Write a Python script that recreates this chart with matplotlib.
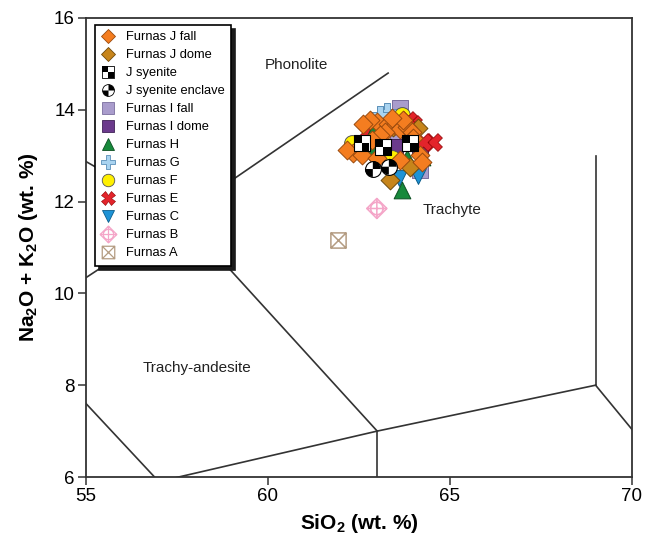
import matplotlib
matplotlib.use("Agg")
import matplotlib.pyplot as plt
from matplotlib.path import Path
from matplotlib.lines import Line2D

plt.rcParams['font.family'] = ['Liberation Sans', 'DejaVu Sans']
plt.rcParams['mathtext.fontset'] = 'custom'
plt.rcParams['mathtext.rm'] = 'Liberation Sans'
plt.rcParams['mathtext.bf'] = 'Liberation Sans:bold'

# ---- data (SiO2, Na2O+K2O) ----
jfall_x = [62.99, 62.80, 63.31, 63.49, 63.63, 63.81, 63.21, 63.08, 63.95, 62.34, 62.57,
           62.99, 64.18, 64.22, 62.62, 63.71, 63.41, 63.98, 62.17, 63.63, 62.86]
jfall_y = [13.74, 13.78, 13.70, 13.67, 13.59, 13.63, 13.52, 13.45, 13.52, 13.05, 13.01,
           12.94, 13.01, 12.87, 13.70, 13.78, 13.82, 13.38, 13.12, 12.90, 13.34]
jdome_x = [63.35, 63.90, 63.43, 64.12]
jdome_y = [12.47, 12.75, 13.62, 13.60]
jsyen_x = [62.57, 63.17, 63.90]
jsyen_y = [13.27, 13.19, 13.27]
encl_x = [62.88, 63.32]
encl_y = [12.71, 12.76]
ifall_x = [63.63, 63.67, 64.18, 63.12, 63.90, 63.57]
ifall_y = [14.04, 13.73, 12.68, 13.70, 13.52, 13.34]
idome_x = [63.49, 63.16, 64.18]
idome_y = [13.19, 13.74, 13.16]
h_x = [63.67, 62.89, 63.81, 64.22, 62.86]
h_y = [12.26, 13.52, 12.94, 12.97, 13.16]
g_x = [63.26, 63.08]
g_y = [13.96, 13.88]
f_x = [62.30, 63.67, 63.40]
f_y = [13.27, 13.88, 12.95]
e_x = [64.53, 64.26, 62.71, 63.99, 63.85]
e_y = [13.30, 13.30, 13.52, 13.70, 13.78]
c_x = [63.60, 64.12, 62.80]
c_y = [12.51, 12.55, 13.06]
b_x = [62.99]
b_y = [11.85]
a_x = [61.91]
a_y = [11.17]

# TAS field boundaries
tas_lines = [
    ([52.5, 57.6], [14.0, 11.7]),
    ([53.0, 57.6], [9.3, 11.7]),
    ([57.6, 63.3], [11.7, 14.8]),
    ([57.6, 63.0], [11.7, 7.0]),
    ([53.0, 57.0], [9.3, 5.9]),
    ([52.0, 57.0, 63.0, 69.0], [5.0, 5.9, 7.0, 8.0]),
    ([63.0, 63.0], [7.0, 0.0]),
    ([69.0, 69.0], [8.0, 13.0]),
    ([69.0, 77.3], [8.0, 0.0]),
]
field_names = ['Phonolite', 'Trachyte', 'Trachy-andesite']
field_x = [60.77, 65.05, 58.04]
field_y = [14.97, 11.81, 8.37]

# ---- custom marker shapes ----
sq_full = Path([(-1, -1), (1, -1), (1, 1), (-1, 1), (-1, -1)], closed=True)
checker = Path.make_compound_path(
    Path([(-1, 0), (0, 0), (0, 1), (-1, 1), (-1, 0)], closed=True),
    Path([(0, -1), (1, -1), (1, 0), (0, 0), (0, -1)], closed=True),
    Path([(-1, -1), (-1, -1)]), Path([(1, 1), (1, 1)]))
quads = Path.make_compound_path(Path.wedge(0, 90), Path.wedge(180, 270))
b_mark = Path.make_compound_path(
    Path([(0, 1), (1, 0), (0, -1), (-1, 0), (0, 1)], closed=True),
    Path.circle((0, 0), 0.62),
    Path([(-1, 0), (1, 0)]), Path([(0, -1), (0, 1)]))
a_mark = Path.make_compound_path(
    sq_full, Path([(-1, -1), (1, 1)]), Path([(-1, 1), (1, -1)]))

fig = plt.figure(figsize=(6.49, 5.35), dpi=100)
ax = fig.add_axes([86/649, 1-477/535, 546/649, 459/535])

for lx, ly in tas_lines:
    ax.plot(lx, ly, color='#333333', lw=1.2, zorder=1)
for name, tx, ty in zip(field_names, field_x, field_y):
    ax.text(tx, ty, name, fontsize=11, ha='center', va='center', color='#222222')

ax.scatter(ifall_x, ifall_y, marker='s', s=135, fc='#A99CCC', ec='#7A6E9E', lw=0.7, zorder=2)
ax.scatter(idome_x, idome_y, marker='s', s=135, fc='#6B3A8C', ec='#3F2256', lw=0.7, zorder=2)
ax.scatter(g_x, g_y, marker='P', s=150, fc='#A9D3F0', ec='#5A8FB8', lw=0.7, zorder=2)
ax.scatter(f_x, f_y, marker='o', s=130, fc='#FFF000', ec='#555555', lw=0.7, zorder=2)
ax.scatter(e_x, e_y, marker='X', s=165, fc='#E3242B', ec='#8B0000', lw=0.5, zorder=2)
ax.scatter(c_x, c_y, marker='v', s=130, fc='#1E93D6', ec='#0B5E8C', lw=0.7, zorder=3)
ax.scatter(h_x, h_y, marker='^', s=145, fc='#17893B', ec='#0C4F22', lw=0.7, zorder=3)
ax.scatter(jdome_x, jdome_y, marker='D', s=92, fc='#C7851B', ec='#6E4A0C', lw=0.7, zorder=3)
ax.scatter(jfall_x, jfall_y, marker='D', s=92, fc='#F47D20', ec='#9A4A0E', lw=0.7, zorder=4)
ax.scatter(jsyen_x, jsyen_y, marker=sq_full, s=125, fc='white', ec='black', lw=0.8, zorder=5)
ax.scatter(jsyen_x, jsyen_y, marker=checker, s=125, fc='black', ec='none', zorder=5)
ax.scatter(encl_x, encl_y, marker='o', s=130, fc='white', ec='black', lw=0.8, zorder=5)
ax.scatter(encl_x, encl_y, marker=quads, s=130, fc='black', ec='none', zorder=5)
ax.scatter(b_x, b_y, marker=b_mark, s=210, fc='none', ec='#F4A6C8', lw=1.1, zorder=5)
ax.scatter(a_x, a_y, marker=a_mark, s=120, fc='white', ec='#B49C82', lw=1.1, zorder=5)

# legend proxies (smaller markers than the plot)
def prox(m, ms, fc, ec, lw=0.6):
    return Line2D([], [], ls='none', marker=m, ms=ms, mfc=fc, mec=ec, mew=lw)

handles = [
    prox('D', 7, '#F47D20', '#9A4A0E'),
    prox('D', 7, '#C7851B', '#6E4A0C'),
    (prox(sq_full, 8, 'white', 'black'), prox(checker, 8, 'black', 'none', 0)),
    (prox('o', 8.5, 'white', 'black'), prox(quads, 8.5, 'black', 'none', 0)),
    prox('s', 8.5, '#A99CCC', '#7A6E9E'),
    prox('s', 8.5, '#6B3A8C', '#3F2256'),
    prox('^', 9, '#17893B', '#0C4F22'),
    prox('P', 9.5, '#A9D3F0', '#5A8FB8'),
    prox('o', 9, '#FFF000', '#555555'),
    prox('X', 9.5, '#E3242B', '#8B0000', 0.4),
    prox('v', 9, '#1E93D6', '#0B5E8C'),
    prox(b_mark, 12, 'none', '#F4A6C8', 0.9),
    prox(a_mark, 9, 'white', '#B49C82', 0.9),
]
labels = ['Furnas J fall', 'Furnas J dome', 'J syenite', 'J syenite enclave',
          'Furnas I fall', 'Furnas I dome', 'Furnas H', 'Furnas G', 'Furnas F',
          'Furnas E', 'Furnas C', 'Furnas B', 'Furnas A']
leg = ax.legend(handles, labels, loc='upper left', bbox_to_anchor=(0.0165, 0.985),
                borderaxespad=0, fontsize=9.3, handlelength=1.0, handletextpad=0.9,
                labelspacing=0.46, borderpad=0.5, fancybox=False, framealpha=1,
                edgecolor='black',
                shadow={'ox': 3, 'oy': -3, 'color': '#1a1a1a', 'alpha': 1})
leg.get_frame().set_linewidth(1.2)

ax.set_xlim(55, 70)
ax.set_ylim(6, 16)
ax.set_xticks([55, 60, 65, 70])
ax.set_yticks([6, 8, 10, 12, 14, 16])
ax.tick_params(direction='out', length=6, width=1.1, labelsize=13.5, pad=2, color='#333333')
for sp in ax.spines.values():
    sp.set_linewidth(1.3)
    sp.set_color('#333333')

ax.set_xlabel(r'SiO$_\mathbf{2}$ (wt. %)', fontsize=15, fontweight='bold', labelpad=5)
ax.set_ylabel(r'Na$_\mathbf{2}$O + K$_\mathbf{2}$O (wt. %)', fontsize=15, fontweight='bold',
              labelpad=10)

fig.savefig('out.png', dpi=100)
